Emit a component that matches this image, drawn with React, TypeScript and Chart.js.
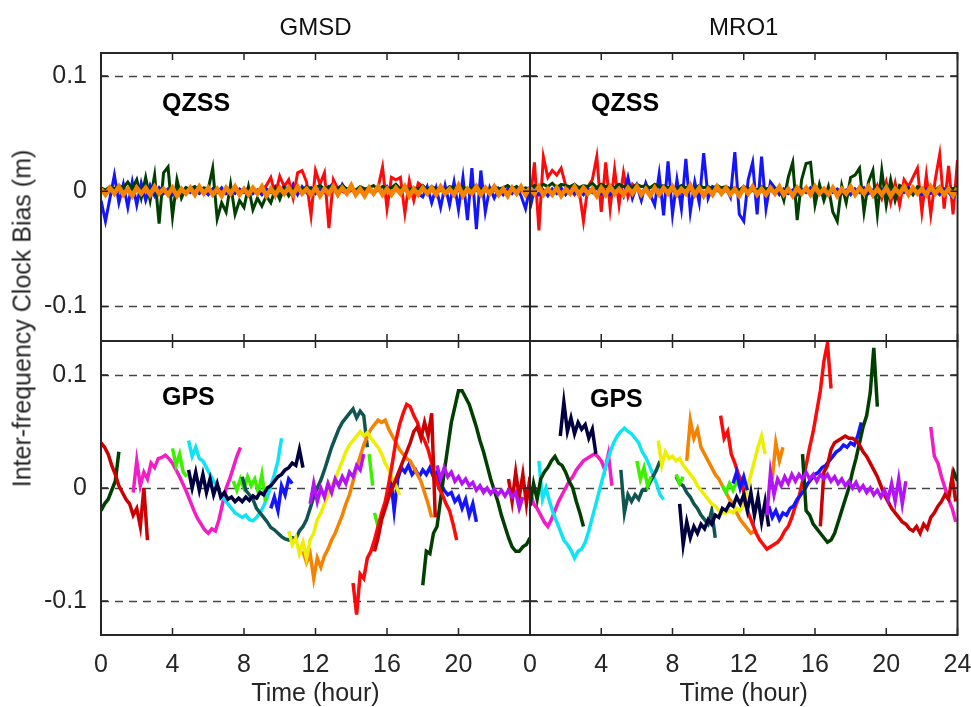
import React, { useEffect, useRef } from 'react';
import { Chart, registerables } from 'chart.js';

Chart.register(...registerables);

const W = 971;
const H = 707;
const FONT = '"Liberation Sans", Arial, Helvetica, sans-serif';
const TEXT = '#262626';

// ---- axes / labels ----
const STATIONS = ['GMSD', 'MRO1'];
const SYSTEMS = ['QZSS', 'GPS'];
const X_TICKS = [0, 4, 8, 12, 16, 20, 24];
const Y_TICKS = [-0.1, 0, 0.1];
const Y_LABEL = 'Inter-frequency Clock Bias (m)';
const X_LABEL = 'Time (hour)';

// sampling steps (hours) of the value lists below; values are in millimetres
const QZSS_STEP = 0.25;
const GPS_STEP = 0.2;

// ---- QZSS (top row), values every 0.25 h from 0 h to 24 h ----
const GMSD_QZSS_ORANGE = [2,-3,3,-2,4,-3,2,-4,3,-2, 3,-3,4,-2,2,-3,3,-4,2,-2, 3,-3,4,-2,3,-3,2,-4,3,-2, 4,-3,2,-3,3,-2,4,-4,2,-3, 3,-2,3,-3,4,-2,2,-3,3,-4, 2,-2,4,-3,3,-2,5,-3,2,-4, 3,-2,4,-3,2,-3,3,-2,4,-4, 2,-3,3,-2,3,-3,4,-2,2,-3, 5,-4,2,-2,4,-3,3,-2,4,-3, 2,-4,3,-2,4,-3,3];
const GMSD_QZSS_GREEN = [3,1,4,2,5,3,8,2,10,-6, 12,-8,14,-28,16,21,-22,10,-6,3, 2,4,1,3,2,20,-24,-10,-18,6, -20,-8,-14,4,-16,-6,-13,-4,-10,2, -7,3,-4,2,3,1,4,2,3,5, 2,4,1,3,5,2,3,1,4,2, 3,5,1,4,2,3,6,2,4,1, 3,2,5,1,4,2,3,1,4,3, 2,4,1,3,5,2,3,1,4,2, 3,5,2,4,1,3,2];
const GMSD_QZSS_BLUE = [-8,-26,-6,14,-10,6,-14,8,-12,7, -8,5,-4,3,-2,2,-3,1,-2,3, -1,2,-2,1,-3,2,-1,3,-2,1, -2,2,-1,3,-2,1,-3,2,-1,4, -2,5,-2,6,-3,4,-1,3,-2,2, -1,3,7,-3,6,0,3,-2,2,-1, 3,-2,2,-1,4,-2,3,-1,2,-3, 2,-2,-5,4,-10,3,-14,5,-12,8, -16,12,-25,20,-33,18,-18,3,-6,2, -3,2,-2,3,-4,-15,4];
const GMSD_QZSS_RED = [1,-1,2,-1,1,-2,1,-1,2,-1, 1,-1,2,-1,1,-2,1,-1,2,-1, 1,-1,2,-1,1,-2,1,-1,2,-1, 1,-1,2,-1,1,-2,1,5,12,-3, 13,4,10,-6,16,18,8,-21,18,6, 16,-32,10,2,0,-2,1,-1,2,-1, 1,-2,3,21,-15,12,10,12,-19,9, -8,7,4,-2,1,-1,2,-1,1,-2, 1,-1,2,-1,1,-2,1,-1,2,-1, 1,-1,2,-1,1,-2,1];

const MRO1_QZSS_ORANGE = [3,-2,4,-3,2,-3,3,-4,2,-2, 4,-3,3,-2,2,-4,3,-3,4,-2, 2,-3,3,-2,4,-3,2,-4,3,-3, 3,-2,4,-3,2,-2,5,-3,3,-4, 2,-3,4,-2,3,-3,2,-4,3,-2, 4,-3,2,-3,3,-2,4,-3,2,-4, 3,-2,3,-3,4,-2,2,-3,3,-4, 2,-2,4,-3,3,-2,4,-3,2,-3, 3,-4,2,-2,4,-3,3,-2,2,-3, 4,-2,3,-3,2,-4,3];
const MRO1_QZSS_GREEN = [2,5,3,6,4,7,3,6,5,4, 6,3,5,4,7,3,6,4,5,3, 6,4,5,3,6,4,5,3,6,4, 5,3,4,2,5,3,4,2,5,3, 4,2,5,3,4,2,3,1,4,2, 3,1,4,2,3,1,4,-8,12,25, -25,10,24,25,-12,6,-8,4,-18,-26, 5,-10,12,14,20,-18,8,18,-20,18, -12,10,-8,5,3,2,-3,4,2,-2, 3,1,4,-2,3,2,4];
const MRO1_QZSS_BLUE = [-15,2,-3,1,-4,2,-2,3,-3,2, -2,1,-3,2,-1,3,-2,1,-3,2, 5,-4,12,-6,5,-8,7,-3,-12,15, -21,26,-20,10,-15,28,-18,8,-10,33, -6,4,2,-2,3,-5,34,-20,-26,10, 25,-20,30,-15,8,3,-3,2,-2,1, -3,2,-1,3,-2,1,-3,2,-1,2, -2,1,-3,2,-1,3,-2,1,-3,2, -2,1,-3,2,-1,3,-2,1,-3,2, -2,1,-3,2,-1,-6,3];
const MRO1_QZSS_RED = [-10,25,-34,30,12,18,14,20,5,2, -3,2,-26,4,10,30,-18,25,-15,19, -12,16,-5,6,2,-1,2,-2,1,-1, 2,-1,1,-2,1,-1,2,-1,1,-2, 1,-1,2,-1,1,-2,1,-1,2,-1, 1,-2,1,-1,2,-1,1,-2,1,-1, 2,-1,1,-2,1,-1,2,-1,1,-2, 1,-1,2,-1,1,-2,3,-4,5,-6, 8,-10,7,-12,10,4,12,20,-18,14, -20,10,32,-15,22,-20,27];

// ---- GPS (bottom row): arcs as [start hour, values every 0.2 h] ----
const GMSD_GPS_DKRED = [[0, [40,36,30,20,12,2,-4,-10,-14,-24,-18,-34,0,-46]], [15.3, [-56,-44,-28,-18,-8,0,8,16,24,32,40,50,54,44,58,46,66,-26]], [22.8, [8,-12,14,-8,12,-14,10]]];
const GMSD_GPS_DKGREEN = [[0, [-20,-14,-10,-2,6,32]], [18.0, [-86,-56,-58,-40,-34,-10,14,36,58,72,86,86,80,74,64,54,42,32,20,8,-2,-12,-24,-34,-44,-52,-56,-56,-52,-50,-44]]];
const GMSD_GPS_MAGENTA = [[1.8, [-4,24,2,14,8,22,18,26,27,29,26,22,16,10,3,-4,-12,-20,-27,-32,-37,-40,-36,-38,-28,-14,0,8,18,28,36]]];
const GMSD_GPS_LIME = [[4.0, [35,20,30,14,10]], [7.4, [6,-2,8,0,10,2,8,-4,12,-12]], [15.0, [30,2]], [15.3, [-22,-34]]];
const GMSD_GPS_CYAN = [[4.9, [42,28,36,26,24,18,12,6,2,-6,-10,-14,-18,-22,-24,-26,-24,-28,-29,-26,-22,-16,-8,2,12,24,44]]];
const GMSD_GPS_NAVY = [[4.9, [16,0,14,-2,12,-4,8,-6,4,-8,-4,-10,-8,-12,-9,-12,-8,-11,-7,-9,-4,-6,0,2,6,10,12,16,18,22,20,34,18]]];
const GMSD_GPS_BLUE = [[9.5, [-18,-8,-20,2,-6,8,4]], [16.0, [-10,10,-20,8,18,14,20,12,16,10,16,12,18,10,14,4,-2,-6,-4,-12,-8,-18,-10,-24,-14,-30]]];
const GMSD_GPS_TEAL = [[7.9, [10,-2,-6,-10,-18,-22,-26,-30,-35,-37,-40,-43,-45,-46,-44,-45,-38,-34,-28,-18,-8,0,7,16,26,36,44,52,58,62,66,70,62,68,64,36]]];
const GMSD_GPS_YELLOW = [[10.5, [-38,-50,-44,-58,-48,-62,-46,-40,-28,-22,-14,-6,2,8,16,24,32,38,42,46,50,46,49,44,40,36,30,22,16,8,2,-6]]];
const GMSD_GPS_ORANGE = [[11.3, [-56,-66,-58,-80,-62,-70,-60,-54,-46,-40,-32,-24,-14,-6,6,18,28,38,46,52,56,60,58,60,52,46,40,34,30,26,24,18,12,6,-4,-14,-26]]];
const GMSD_GPS_PURPLE = [[11.7, [-14,4,-12,0,-8,4,-4,8,2,10,4,14,10,20,16,30]], [18.8, [20,8,18,10,14,6,10,4,8,2,5,-2,2,-4,0,-5,-1,-6,-2,-7,-2,-8,-4,-18,-8]]];
const GMSD_GPS_RED = [[14.1, [-84,-112,-76,-80,-62,-56,-46,-34,-22,-12,4,22,42,56,66,74,72,64,58,48,42,34,22,10,0,-6,-14,-20,-32,-46]]];

const MRO1_GPS_DKGREEN = [[0, [-16,4,-10,8,14,18,24,28,22,20,14,6,0,-12,-22,-34]], [15.3, [30,-20,-24,-32,-36,-40,-44,-48,-46,-40,-30,-20,-10,0,14,26,40,54,64,84,124,72]], [23.6, [0,14,6]]];
const MRO1_GPS_NAVY = [[1.7, [46,76,50,62,48,58,52,56,44,52,30]], [8.4, [-14,-50,-30,-44,-34,-40,-32,-36,-28,-32,-24,-26,-18,-20,-14,-16,-8,-14,-6,-20,-4,-24,-8,-30,-12,-34]]];
const MRO1_GPS_CYAN = [[0.5, [24,-10,0,-12,-22,-30,-38,-46,-50,-55,-62,-56,-54,-48,-38,-26,-14,-2,10,22,32,40,46,50,53,50,48,44,40,32,27,20,12,4,-6,-10]]];
const MRO1_GPS_MAGENTA = [[0, [-2,-14,-18,-24,-30,-34,-28,-20,-12,-6,0,6,10,16,20,24,26,28,30,28,24,16,30,2]], [22.5, [54,28,22,10,0,-10,-18,-30]]];
const MRO1_GPS_TEAL = [[5.1, [16,-22,-6,-12,-6,-10,-2,-2,4,10,16,24]], [8.2, [10,4,2,-4,-8,-14,-18,-24,-28,-32,-20,-44]]];
const MRO1_GPS_LIME = [[6.0, [24,8,18,2,10]], [8.2, [12,4,10]], [10.8, [2,-4,4,-2,6,0,8]]];
const MRO1_GPS_YELLOW = [[7.2, [42,20,32,26,28,24,26,20,16,12,8,2,-2,-6,-10,-14,-16,-20,-22,-22,-20,-22,-18,-20,-14,0,12,24,36,46,30]]];
const MRO1_GPS_ORANGE = [[8.8, [24,60,44,52,36,30,24,18,12,8,2,-4,-10,-14,-22,-28,-32,-36,-40,-38]], [13.6, [8,40,24,36]]];
const MRO1_GPS_RED = [[10.7, [64,44,50,30,22,12,6,-14,-24,-32,-40,-46,-50,-54,-52,-50,-48,-44,-38,-34,-26,-16,-8,6,20,36,50,68,86,112,128,88]]];
const MRO1_GPS_BLUE = [[11.4, [4,14,0,10,-2]], [13.4, [-16,-26,-20,-28,-22,-24,-18,-16,-10,-6,-2,4,8,12,14,18,20,24,28,32,34,38,36,40,38,46,58]]];
const MRO1_GPS_PURPLE = [[13.3, [-24,14,-6,8,2,10,4,12,6,12,8,14,8,12,6,12,8,12,6,10,4,8,2,6,0,5,-2,2,-4,0,-6,-2,-8,-2,-10,4,-12,8,-14,6]]];
const MRO1_GPS_DKRED = [[16.3, [-34,14,20,34,40,42,44,46,44,44,42,38,32,28,22,16,10,2,-6,-12,-18,-22,-26,-30,-32,-36,-38,-34,-40,-32,-36,-26,-22,-16,-12,-6,-10,10,-12]]];

// ---- colours ----
const C = {
  orange: '#f58200',
  dkgreen: '#003f00',
  blue: '#1414ff',
  red: '#ff0a0a',
  dkred: '#cc0000',
  magenta: '#f41cc4',
  lime: '#3cf000',
  cyan: '#0ee4f4',
  navy: '#000040',
  teal: '#0f5552',
  yellow: '#eeee00',
  purple: '#b414f5',
};

// ---- panel series (first listed = drawn on top) ----
const PANELS = [
  [
    [
      { arcs: [[0, GMSD_QZSS_ORANGE]], color: C.orange, width: 4.5 },
      { arcs: [[0, GMSD_QZSS_GREEN]], color: C.dkgreen, width: 3 },
      { arcs: [[0, GMSD_QZSS_RED]], color: C.red, width: 3 },
      { arcs: [[0, GMSD_QZSS_BLUE]], color: C.blue, width: 3 },
    ],
    [
      { arcs: GMSD_GPS_PURPLE, color: C.purple },
      { arcs: GMSD_GPS_DKRED, color: C.dkred },
      { arcs: GMSD_GPS_RED, color: C.red },
      { arcs: GMSD_GPS_DKGREEN, color: C.dkgreen },
      { arcs: GMSD_GPS_YELLOW, color: C.yellow },
      { arcs: GMSD_GPS_ORANGE, color: C.orange },
      { arcs: GMSD_GPS_BLUE, color: C.blue },
      { arcs: GMSD_GPS_NAVY, color: C.navy },
      { arcs: GMSD_GPS_TEAL, color: C.teal },
      { arcs: GMSD_GPS_LIME, color: C.lime },
      { arcs: GMSD_GPS_CYAN, color: C.cyan },
      { arcs: GMSD_GPS_MAGENTA, color: C.magenta },
    ],
  ],
  [
    [
      { arcs: [[0, MRO1_QZSS_ORANGE]], color: C.orange, width: 4.5 },
      { arcs: [[0, MRO1_QZSS_GREEN]], color: C.dkgreen, width: 3 },
      { arcs: [[0, MRO1_QZSS_BLUE]], color: C.blue, width: 3 },
      { arcs: [[0, MRO1_QZSS_RED]], color: C.red, width: 3 },
    ],
    [
      { arcs: MRO1_GPS_PURPLE, color: C.purple },
      { arcs: MRO1_GPS_NAVY, color: C.navy },
      { arcs: MRO1_GPS_DKRED, color: C.dkred },
      { arcs: MRO1_GPS_DKGREEN, color: C.dkgreen },
      { arcs: MRO1_GPS_BLUE, color: C.blue },
      { arcs: MRO1_GPS_RED, color: C.red },
      { arcs: MRO1_GPS_LIME, color: C.lime },
      { arcs: MRO1_GPS_YELLOW, color: C.yellow },
      { arcs: MRO1_GPS_ORANGE, color: C.orange },
      { arcs: MRO1_GPS_TEAL, color: C.teal },
      { arcs: MRO1_GPS_CYAN, color: C.cyan },
      { arcs: MRO1_GPS_MAGENTA, color: C.magenta },
    ],
  ],
];

// ---- layout (pixel boxes of the four plot areas) ----
const COL_X = [[101, 530], [530, 957.5]];
const ROW_Y = [[53, 341], [341, 635]];
const ROW_YLIM = [[-0.13, 0.12], [-0.13, 0.13]];

function arcsToPoints(arcs: any[], step: number) {
  const pts: any[] = [];
  arcs.forEach(([t0, vals]: [number, number[]], k: number) => {
    if (k > 0) pts.push({ x: t0, y: null });
    vals.forEach((v, i) => pts.push({ x: t0 + i * step, y: v / 1000 }));
  });
  return pts;
}

function zeroPad(s: any) {
  s.paddingLeft = 0;
  s.paddingRight = 0;
  s.paddingTop = 0;
  s.paddingBottom = 0;
}

const framePlugin = {
  id: 'panelFrame',
  beforeDatasetsDraw(chart: any) {
    const { ctx, chartArea: a } = chart;
    const y = chart.scales.y;
    ctx.save();
    ctx.beginPath();
    ctx.rect(a.left, a.top, a.right - a.left, a.bottom - a.top);
    ctx.clip();
    ctx.strokeStyle = '#444444';
    ctx.lineWidth = 1.3;
    ctx.setLineDash([8, 6]);
    y.ticks.forEach((t: any) => {
      const py = Math.round(y.getPixelForValue(t.value)) + 0.5;
      ctx.beginPath();
      ctx.moveTo(a.left, py);
      ctx.lineTo(a.right, py);
      ctx.stroke();
    });
    ctx.restore();
  },
  afterDatasetsDraw(chart: any) {
    const { ctx, chartArea: a } = chart;
    const x = chart.scales.x;
    const y = chart.scales.y;
    const L = 7;
    ctx.save();
    ctx.strokeStyle = TEXT;
    ctx.lineWidth = 2;
    ctx.setLineDash([]);
    ctx.strokeRect(a.left, a.top, a.right - a.left, a.bottom - a.top);
    ctx.lineWidth = 1.5;
    ctx.beginPath();
    x.ticks.forEach((t: any) => {
      const px = x.getPixelForValue(t.value);
      ctx.moveTo(px, a.top); ctx.lineTo(px, a.top + L);
      ctx.moveTo(px, a.bottom); ctx.lineTo(px, a.bottom - L);
    });
    y.ticks.forEach((t: any) => {
      const py = y.getPixelForValue(t.value);
      ctx.moveTo(a.left, py); ctx.lineTo(a.left + L, py);
      ctx.moveTo(a.right, py); ctx.lineTo(a.right - L, py);
    });
    ctx.stroke();
    ctx.restore();
  },
};

function Panel({ col, row }: { col: number; row: number }) {
  const ref = useRef<HTMLCanvasElement>(null);
  useEffect(() => {
    const series = PANELS[col][row];
    const step = row === 0 ? QZSS_STEP : GPS_STEP;
    const [x0, x1] = COL_X[col];
    const [y0, y1] = ROW_Y[row];
    const [ymin, ymax] = ROW_YLIM[row];
    const yAxisW = col === 0 ? x0 : 0;
    const xAxisH = row === 1 ? H - y1 : 0;
    const chart = new Chart(ref.current as HTMLCanvasElement, {
      type: 'line',
      data: {
        datasets: series.map((s: any, i: number) => ({
          data: arcsToPoints(s.arcs, step),
          borderColor: s.color,
          backgroundColor: s.color,
          borderWidth: s.width || 3.5,
          pointRadius: 0,
          tension: 0,
          fill: false,
          spanGaps: false,
          order: i,
        })),
      },
      options: {
        animation: false,
        responsive: false,
        maintainAspectRatio: false,
        devicePixelRatio: 1,
        events: [],
        layout: { padding: { left: x0 - yAxisW, right: W - x1, top: y0, bottom: H - y1 - xAxisH } },
        plugins: { legend: { display: false }, title: { display: false }, tooltip: { enabled: false } },
        scales: {
          x: {
            type: 'linear',
            min: 0,
            max: 24,
            grid: { display: false, drawTicks: false },
            border: { display: false },
            afterBuildTicks: (s: any) => { s.ticks = X_TICKS.map((v) => ({ value: v })); },
            afterFit: (s: any) => { s.height = xAxisH; zeroPad(s); },
            ticks: {
              display: row === 1,
              autoSkip: false,
              maxRotation: 0,
              minRotation: 0,
              padding: 15,
              color: TEXT,
              font: { family: FONT, size: 25 },
              callback: (v: any) => (col === 0 && v === 24 ? '' : String(v)),
            },
          },
          y: {
            type: 'linear',
            min: ymin,
            max: ymax,
            grid: { display: false, drawTicks: false },
            border: { display: false },
            afterBuildTicks: (s: any) => { s.ticks = Y_TICKS.map((v) => ({ value: v })); },
            afterFit: (s: any) => { s.width = yAxisW; zeroPad(s); },
            ticks: {
              display: col === 0,
              padding: 14,
              color: TEXT,
              font: { family: FONT, size: 25 },
              callback: (v: any) => String(v),
            },
          },
        },
      },
      plugins: [framePlugin],
    } as any);
    return () => chart.destroy();
  }, [col, row]);
  return (
    <canvas
      ref={ref}
      width={W}
      height={H}
      style={{ position: 'absolute', left: 0, top: 0, width: W, height: H }}
    />
  );
}

const textBase: React.CSSProperties = {
  position: 'absolute',
  fontFamily: FONT,
  color: TEXT,
  whiteSpace: 'nowrap',
};

export default function App() {
  return (
    <div style={{ position: 'fixed', left: 0, top: 0, width: W, height: H, background: '#fff', overflow: 'hidden' }}>
      {[0, 1].map((col) => [0, 1].map((row) => <Panel key={`${col}-${row}`} col={col} row={row} />))}
      {STATIONS.map((s, col) => (
        <div key={s} style={{ ...textBase, left: COL_X[col][0], width: COL_X[col][1] - COL_X[col][0], top: 15, fontSize: 24, lineHeight: '24px', textAlign: 'center', color: '#111' }}>
          {s}
        </div>
      ))}
      {STATIONS.map((s, col) => (
        <div key={s + 'x'} style={{ ...textBase, left: COL_X[col][0], width: COL_X[col][1] - COL_X[col][0], top: 680, fontSize: 25, lineHeight: '25px', textAlign: 'center' }}>
          {X_LABEL}
        </div>
      ))}
      <div style={{ ...textBase, left: 22 - 250, top: 318 - 12.5, width: 500, height: 25, fontSize: 25, lineHeight: '25px', textAlign: 'center', transform: 'rotate(-90deg)' }}>
        {Y_LABEL}
      </div>
      {[0, 1].map((col) => (
        <div key={'q' + col} style={{ ...textBase, left: col === 0 ? 162 : 591, top: 90, fontSize: 25, lineHeight: '25px', fontWeight: 'bold', color: '#000' }}>
          {SYSTEMS[0]}
        </div>
      ))}
      {[0, 1].map((col) => (
        <div key={'g' + col} style={{ ...textBase, left: col === 0 ? 162 : 590, top: col === 0 ? 384 : 386, fontSize: 25, lineHeight: '25px', fontWeight: 'bold', color: '#000' }}>
          {SYSTEMS[1]}
        </div>
      ))}
    </div>
  );
}
